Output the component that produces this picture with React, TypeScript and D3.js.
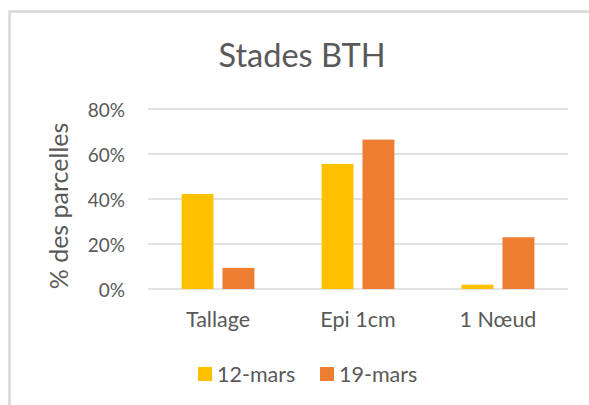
import React, { useEffect, useRef } from 'react';
import * as d3 from 'd3';

const categories = ['Tallage', 'Epi 1cm', '1 Nœud'];
const seriesNames = ['12-mars', '19-mars'];
const mars12 = [0.422, 0.556, 0.019];
const mars19 = [0.094, 0.664, 0.23];
const yTicks = [0, 0.2, 0.4, 0.6, 0.8];

const colors = ['#FFC000', '#ED7D31'];
const textColor = '#595959';
const font = 'Lato, "Open Sans", sans-serif';

export default function App() {
  const node = useRef<SVGSVGElement | null>(null);

  useEffect(() => {
    const svg = d3.select(node.current);
    svg.selectAll('*').remove();

    // chart area border (only top and left visible)
    svg.append('rect')
      .attr('x', 9.5)
      .attr('y', 11.5)
      .attr('width', 700)
      .attr('height', 500)
      .attr('fill', '#fff')
      .attr('stroke', '#d9d9d9')
      .attr('stroke-width', 2.5);

    const x0 = d3.scaleBand<string>().domain(categories).range([148, 568]);
    const groupWidth = x0.bandwidth() * 0.52;
    const x1 = d3.scaleBand<string>()
      .domain(seriesNames)
      .range([0, groupWidth])
      .paddingInner(0.22);
    const y = d3.scaleLinear().domain([0, 0.8]).range([289, 109]);

    // gridlines
    svg.append('g')
      .selectAll('line')
      .data(yTicks)
      .enter()
      .append('line')
      .attr('x1', 148)
      .attr('x2', 568)
      .attr('y1', (d) => y(d))
      .attr('y2', (d) => y(d))
      .attr('stroke', '#d9d9d9')
      .attr('stroke-width', 1.3);

    // tick labels
    svg.append('g')
      .selectAll('text')
      .data(yTicks)
      .enter()
      .append('text')
      .attr('x', 125)
      .attr('y', (d) => y(d) + 7.5)
      .attr('text-anchor', 'end')
      .style('font-family', font)
      .style('font-size', '19px')
      .style('fill', textColor)
      .text((d) => d3.format('.0%')(d));

    // bars
    const series = [mars12, mars19];
    const groups = svg.append('g')
      .selectAll('g')
      .data(categories)
      .enter()
      .append('g')
      .attr('transform', (c) => `translate(${x0(c)! + (x0.bandwidth() - groupWidth) / 2},0)`);

    groups.selectAll('rect')
      .data((c, i) => seriesNames.map((s, k) => ({ s, k, v: series[k][i] })))
      .enter()
      .append('rect')
      .attr('x', (d) => x1(d.s)!)
      .attr('width', x1.bandwidth())
      .attr('y', (d) => y(d.v))
      .attr('height', (d) => y(0) - y(d.v))
      .attr('fill', (d) => colors[d.k]);

    // category labels
    svg.append('g')
      .selectAll('text')
      .data(categories)
      .enter()
      .append('text')
      .attr('x', (c) => x0(c)! + x0.bandwidth() / 2)
      .attr('y', 327)
      .attr('text-anchor', 'middle')
      .style('font-family', font)
      .style('font-size', '21.5px')
      .style('fill', textColor)
      .text((c) => c);

    // title
    svg.append('text')
      .attr('x', 302)
      .attr('y', 67)
      .attr('text-anchor', 'middle')
      .style('font-family', font)
      .style('font-size', '32.5px')
      .style('fill', textColor)
      .text('Stades BTH');

    // y axis title
    svg.append('text')
      .attr('transform', `translate(68,206) rotate(-90)`)
      .attr('text-anchor', 'middle')
      .style('font-family', font)
      .style('font-size', '25px')
      .style('fill', textColor)
      .text('% des parcelles');

    // legend
    const legendX = [198, 320];
    const legend = svg.append('g')
      .selectAll('g')
      .data(seriesNames)
      .enter()
      .append('g')
      .attr('transform', (s, i) => `translate(${legendX[i]},367)`);
    legend.append('rect')
      .attr('width', 14)
      .attr('height', 14)
      .attr('fill', (s, i) => colors[i]);
    legend.append('text')
      .attr('x', 19)
      .attr('y', 14.5)
      .style('font-family', font)
      .style('font-size', '21.5px')
      .style('fill', textColor)
      .text((s) => s);
  }, []);

  return (
    <svg
      ref={node}
      width={589}
      height={405}
      style={{ position: 'absolute', left: 0, top: 0, background: '#fff' }}
    />
  );
}
